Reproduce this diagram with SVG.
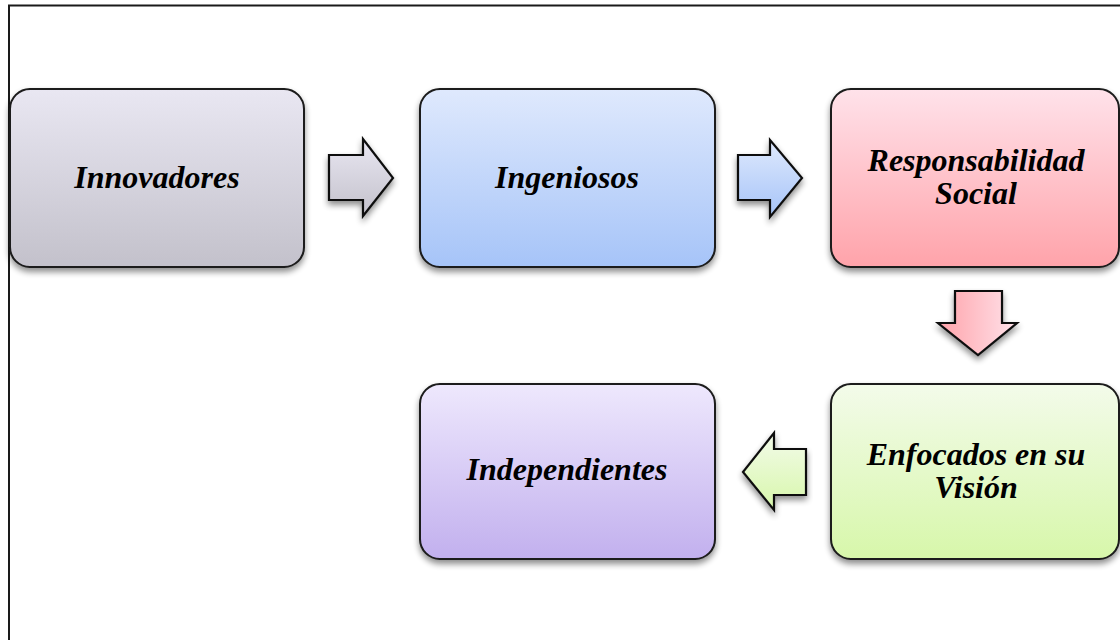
<svg xmlns="http://www.w3.org/2000/svg" width="1120" height="640" viewBox="0 0 1120 640">
<defs>
<linearGradient id="gGrey" x1="0" y1="0" x2="0" y2="1"><stop offset="0" stop-color="#e9e7f2"/><stop offset="1" stop-color="#c3c1cb"/></linearGradient>
<linearGradient id="gBlue" x1="0" y1="0" x2="0" y2="1"><stop offset="0" stop-color="#dfe9fd"/><stop offset="1" stop-color="#a6c4f8"/></linearGradient>
<linearGradient id="gPink" x1="0" y1="0" x2="0" y2="1"><stop offset="0" stop-color="#ffe2ea"/><stop offset="1" stop-color="#ffa3aa"/></linearGradient>
<linearGradient id="gPurple" x1="0" y1="0" x2="0" y2="1"><stop offset="0" stop-color="#eee8fd"/><stop offset="1" stop-color="#c2b0ee"/></linearGradient>
<linearGradient id="gGreen" x1="0" y1="0" x2="0" y2="1"><stop offset="0" stop-color="#f3fbea"/><stop offset="1" stop-color="#d7f7aa"/></linearGradient>
<linearGradient id="gPinkH" x1="0" y1="0" x2="1" y2="0"><stop offset="0" stop-color="#ffa3aa"/><stop offset="1" stop-color="#ffe2ea"/></linearGradient>
<filter id="sh" x="-10%" y="-10%" width="120%" height="130%">
<feGaussianBlur in="SourceAlpha" stdDeviation="3"/>
<feOffset dx="0" dy="4" result="b"/>
<feComponentTransfer><feFuncA type="linear" slope="0.45"/></feComponentTransfer>
<feMerge><feMergeNode/><feMergeNode in="SourceGraphic"/></feMerge>
</filter>
</defs>
<style>
.box{stroke:#1a1a1a;stroke-width:2;filter:url(#sh)}
.arr{stroke:#111;stroke-width:2.2;stroke-linejoin:miter;filter:url(#sh)}
.t{font-family:"Liberation Serif","Times New Roman",serif;font-weight:bold;font-style:italic;font-size:32px;fill:#000;text-anchor:middle}
</style>
<rect x="0" y="0" width="1120" height="640" fill="#ffffff"/>
<path d="M9,645 L9,5.5 L1125,5.5" fill="none" stroke="#1a1a1a" stroke-width="2"/>
<g id="connectors">
<path class="arr" fill="url(#gGrey)" d="M329,155 L363,155 L363,139 L393,178 L363,216 L363,200 L329,200 Z"/>
<path class="arr" fill="url(#gBlue)" d="M738,155 L770,155 L770,140 L802,178 L770,217 L770,200 L738,200 Z"/>
<path class="arr" fill="url(#gPinkH)" d="M955,291 L1002,291 L1002,323 L1017,323 L978,355 L938,323 L955,323 Z"/>
<path class="arr" fill="url(#gGreen)" d="M806,449 L774,449 L774,433 L743,472 L774,510 L774,495 L806,495 Z"/>
</g>
<g id="n1">
<rect class="box" x="10" y="89" width="294" height="178" rx="20" fill="url(#gGrey)"/>
<text class="t" x="157" y="188">Innovadores</text>
</g>
<g id="n2">
<rect class="box" x="420" y="89" width="295" height="178" rx="20" fill="url(#gBlue)"/>
<text class="t" x="567" y="188">Ingeniosos</text>
</g>
<g id="n3">
<rect class="box" x="831" y="89" width="288" height="178" rx="20" fill="url(#gPink)"/>
<text class="t" x="976" y="171">Responsabilidad</text>
<text class="t" x="976" y="204">Social</text>
</g>
<g id="n4">
<rect class="box" x="831" y="384" width="288" height="175" rx="20" fill="url(#gGreen)"/>
<text class="t" x="976" y="465">Enfocados en su</text>
<text class="t" x="976" y="498">Visión</text>
</g>
<g id="n5">
<rect class="box" x="420" y="384" width="295" height="175" rx="20" fill="url(#gPurple)"/>
<text class="t" x="567" y="480">Independientes</text>
</g>
</svg>
